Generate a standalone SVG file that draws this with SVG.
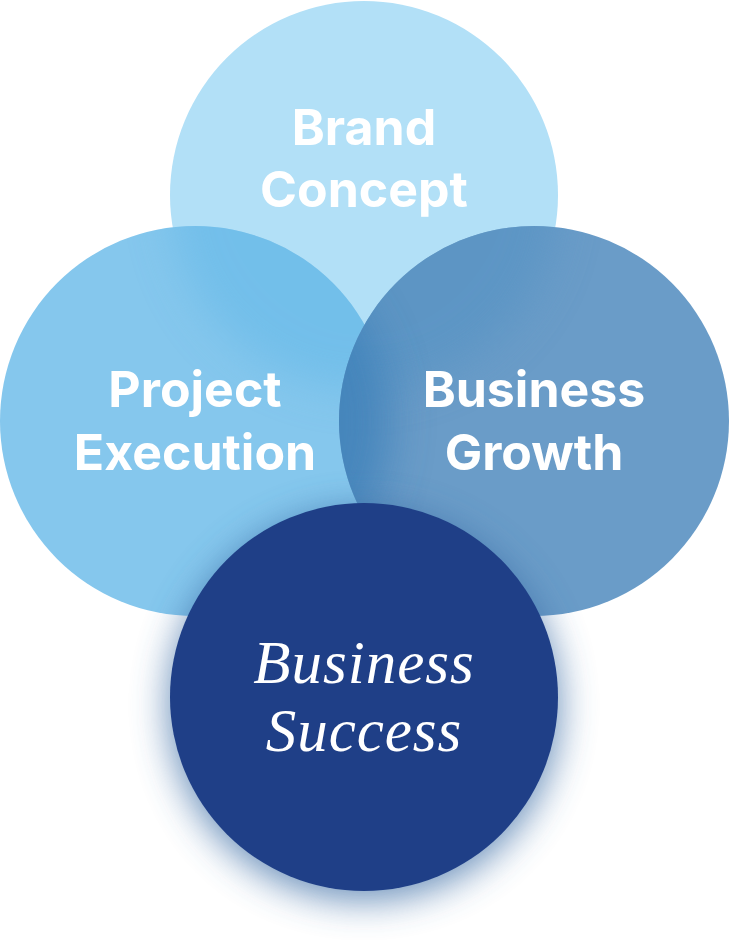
<svg xmlns="http://www.w3.org/2000/svg" width="729" height="942" viewBox="0 0 729 942">
  <style>
    .sans { font-family: Inter, "Liberation Sans", sans-serif; font-weight: 700; fill: #ffffff; text-anchor: middle; font-size: 50px; }
    .serif { font-family: "Liberation Serif", serif; font-style: italic; fill: #ffffff; text-anchor: middle; font-size: 61px; letter-spacing: 1px; }
  </style>
  <defs>
    <filter id="blur" x="-30%" y="-30%" width="160%" height="160%">
      <feGaussianBlur stdDeviation="22"/>
    </filter>
    <filter id="glow" x="-30%" y="-30%" width="160%" height="160%">
      <feGaussianBlur stdDeviation="18"/>
    </filter>
    <clipPath id="clipProject"><circle cx="195" cy="421" r="195"/></clipPath>
    <clipPath id="clipGrowth"><circle cx="534" cy="421" r="195"/></clipPath>
  </defs>

  <g id="brand-concept">
    <circle cx="364" cy="195" r="194" fill="#b2e0f7"/>
    <text class="sans" x="364" y="145">Brand</text>
    <text class="sans" x="364" y="207">Concept</text>
  </g>

  <g id="project-execution">
    <circle cx="195" cy="421" r="195" fill="#85c7ed"/>
    <g clip-path="url(#clipProject)">
      <circle cx="364" cy="195" r="194" fill="#66b9e8" opacity="0.6" filter="url(#blur)"/>
    </g>
    <text class="sans" x="195" y="407">Project</text>
    <text class="sans" x="195" y="470">Execution</text>
  </g>

  <g id="business-growth">
    <circle cx="534" cy="421" r="195" fill="#6a9cc8"/>
    <g clip-path="url(#clipGrowth)">
      <circle cx="364" cy="195" r="194" fill="#5a94c4" opacity="0.8" filter="url(#blur)"/>
      <circle cx="195" cy="421" r="195" fill="#3f82ba" opacity="0.85" filter="url(#blur)"/>
    </g>
    <text class="sans" x="534" y="407">Business</text>
    <text class="sans" x="534" y="470">Growth</text>
  </g>

  <g id="business-success">
    <circle cx="364" cy="705" r="196" fill="#3d6ea6" opacity="0.75" filter="url(#glow)"/>
    <circle cx="364" cy="697" r="194" fill="#1f3f87"/>
    <text class="serif" x="364" y="683">Business</text>
    <text class="serif" x="364" y="751">Success</text>
  </g>

  <g id="connectors"/>
</svg>
